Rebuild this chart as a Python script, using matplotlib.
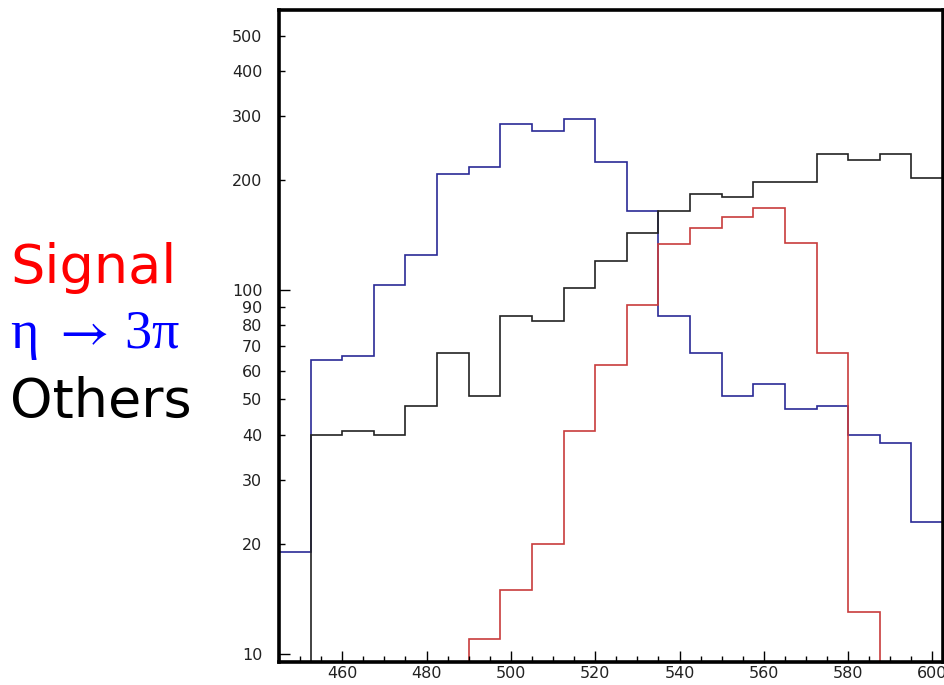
import numpy as np
import matplotlib
matplotlib.use("Agg")
import matplotlib.pyplot as plt
from matplotlib.ticker import FixedLocator, FuncFormatter, MultipleLocator

# Bin edges of the invariant-mass histogram (7.5 wide, 445 -> 602.5)
edges = np.arange(445.0, 602.5 + 0.1, 7.5)

# Counts per bin (0 = empty bin)
signal = [0, 0, 0, 0, 0, 0, 11, 15, 20, 41, 62, 91, 134, 148, 159, 168, 135, 67, 13, 0, 0]
eta3pi = [19, 64, 66, 103, 125, 208, 218, 286, 274, 294, 225, 165, 85, 67, 51, 55, 47, 48, 40, 38, 23]
others = [0, 40, 41, 40, 48, 67, 51, 85, 82, 101, 120, 143, 165, 183, 180, 198, 198, 237, 227, 237, 203]

y_major = [10, 100]
y_minor = [20, 30, 40, 50, 60, 70, 80, 90, 200, 300, 400, 500]

plt.rcParams["mathtext.fontset"] = "stix"

fig = plt.figure(figsize=(9.45, 6.85), dpi=100)
ax = fig.add_axes([0.2952, 0.0336, 0.9979 - 0.2952, 0.9847 - 0.0336])

ax.set_yscale("log", nonpositive="clip")
ax.stairs(eta3pi, edges, baseline=None, color="#2a2a96", lw=1.2)
ax.stairs(signal, edges, baseline=None, color="#c83c3c", lw=1.2)
ax.stairs(others, edges, baseline=None, color="#222222", lw=1.2)

ax.set_xlim(445, 602.5)
ax.set_ylim(9.5, 586)

ax.xaxis.set_major_locator(MultipleLocator(20))
ax.xaxis.set_minor_locator(MultipleLocator(5))
ax.yaxis.set_major_locator(FixedLocator(y_major))
ax.yaxis.set_minor_locator(FixedLocator(y_minor))
fmt = FuncFormatter(lambda v, p: f"{v:g}")
ax.yaxis.set_major_formatter(fmt)
ax.yaxis.set_minor_formatter(fmt)

for s in ax.spines.values():
    s.set_linewidth(2.6)
    s.set_color("black")

ax.tick_params(axis="both", which="both", direction="in", width=1.0,
               labelsize=11.5, labelcolor="#222222")
ax.tick_params(axis="both", which="major", length=8)
ax.tick_params(axis="both", which="minor", length=4.5)
ax.tick_params(axis="y", which="both", pad=12)
ax.tick_params(axis="x", which="both", pad=3)

fig.text(10 / 945, 1 - 283 / 685, "Signal", color="red", fontsize=39,
         family="DejaVu Sans", va="baseline", ha="left")
fig.text(10 / 945, 1 - 348 / 685, "\u03b7 $\\rightarrow\\,$3\u03c0", color="blue",
         fontsize=39, family=["Liberation Serif", "DejaVu Serif"],
         va="baseline", ha="left")
fig.text(10 / 945, 1 - 417 / 685, "Others", color="black", fontsize=39,
         family="DejaVu Sans", va="baseline", ha="left")

fig.savefig("out.png", dpi=100)
